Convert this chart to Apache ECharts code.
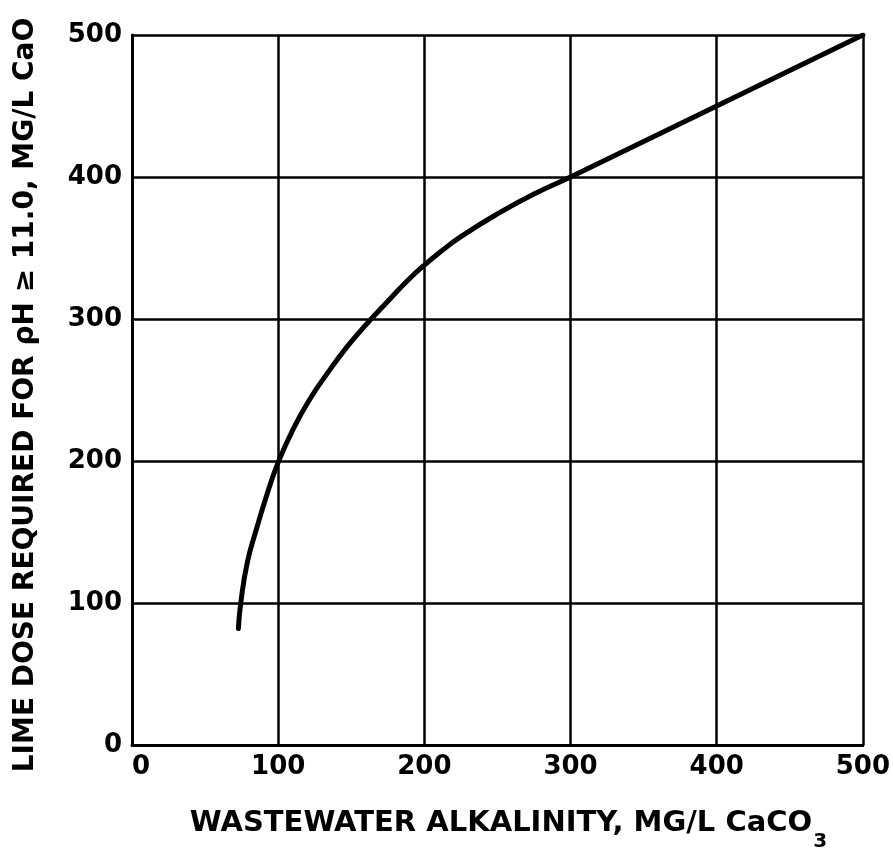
<!DOCTYPE html>
<html>
<head>
<meta charset="utf-8">
<script src="https://cdn.jsdelivr.net/npm/echarts@6/dist/echarts.min.js"></script>
<style>
html,body{margin:0;padding:0;background:#fff;}
#chart{width:893px;height:857px;}
</style>
</head>
<body>
<div id="chart"></div>
<script>
// Wastewater alkalinity (mg/L CaCO3)
const alkalinity = [72.8, 74.4, 79, 85.7, 92.5, 100, 110, 121.3, 135.2, 146.8, 158.3, 164.1, 176.8, 188.4, 200, 211.3, 225, 250, 275, 300, 400, 500];
// Lime dose required for pH >= 11.0 (mg/L CaO)
const limeDose   = [82, 100, 129, 154, 177, 199, 222, 243, 264, 280, 294, 300.5, 314.5, 327, 338, 347.5, 358, 374, 388, 400, 450, 500];
const xTicks = [0, 100, 200, 300, 400, 500];
const yTicks = [0, 100, 200, 300, 400, 500];

const FONT = 'DejaVu Sans';
const chart = echarts.init(document.getElementById('chart'), null, {renderer: 'canvas'});
const data = alkalinity.map((x, i) => [x, limeDose[i]]);

chart.setOption({
  backgroundColor: '#fff',
  animation: false,
  grid: {left: 132, right: 22, top: 35, bottom: 105, containLabel: false},
  xAxis: {
    type: 'value', min: xTicks[0], max: xTicks[xTicks.length - 1], interval: 100,
    axisLine: {show: true, onZero: false, lineStyle: {color: '#000', width: 3}},
    axisTick: {show: false},
    splitLine: {show: true, lineStyle: {color: '#000', width: 2.5}},
    axisLabel: {color: '#000', fontFamily: FONT, fontWeight: 'bold', fontSize: 26, margin: 9, alignMinLabel: 'left'},
    name: '{a|WASTEWATER ALKALINITY, MG/L CaCO}{s|3}',
    nameLocation: 'middle', nameGap: 61,
    nameTextStyle: {
      padding: [0, 0, 0, 22],
      rich: {
        a: {color: '#000', fontFamily: FONT, fontWeight: 'bold', fontSize: 29, lineHeight: 34},
        s: {color: '#000', fontFamily: FONT, fontWeight: 'bold', fontSize: 20, lineHeight: 20, verticalAlign: 'bottom', padding: [0, 0, -12, 1]}
      }
    }
  },
  yAxis: {
    type: 'value', min: yTicks[0], max: yTicks[yTicks.length - 1], interval: 100,
    axisLine: {show: true, onZero: false, lineStyle: {color: '#000', width: 3}},
    axisTick: {show: false},
    splitLine: {show: true, lineStyle: {color: '#000', width: 2.5}},
    axisLabel: {color: '#000', fontFamily: FONT, fontWeight: 'bold', fontSize: 26, margin: 10},
    name: 'LIME DOSE REQUIRED FOR ρH ≥ 11.0, MG/L CaO',
    nameLocation: 'middle', nameGap: 92, nameRotate: 90,
    nameTextStyle: {color: '#000', fontFamily: FONT, fontWeight: 'bold', fontSize: 28, padding: [0, 10, 0, 0]}
  },
  series: [{
    type: 'line', data: data, smooth: 0.5,
    showSymbol: false, symbol: 'none',
    lineStyle: {color: '#000', width: 5, cap: 'round'}
  }]
});
</script>
</body>
</html>
